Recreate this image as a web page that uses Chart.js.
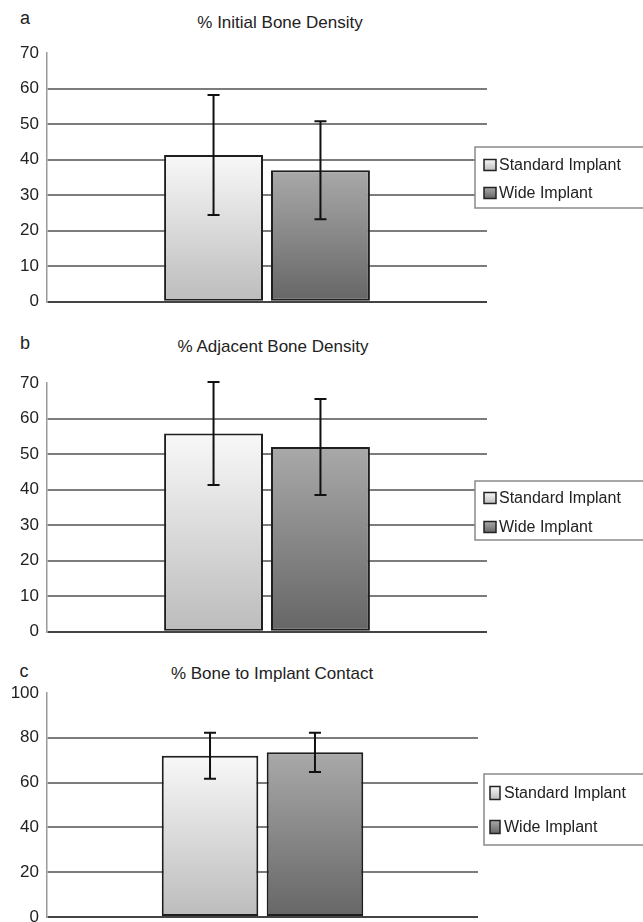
<!DOCTYPE html>
<html>
<head>
<meta charset="utf-8">
<script src="https://cdn.jsdelivr.net/npm/chart.js@4.4.0/dist/chart.umd.min.js"></script>
<style>
  html, body { margin: 0; padding: 0; background: #fff; width: 643px; height: 922px; overflow: hidden; }
  canvas { position: absolute; left: 0; }
  .txt { position: absolute; font-family: "Liberation Sans", Arial, sans-serif; color: #222;
         transform: translate(-50%, -50%); white-space: nowrap; }
  .letter { font-size: 18px; }
  .title { font-size: 17px; }
</style>
</head>
<body>
<div class="txt letter" style="left:25px;top:18px">a</div>
<div class="txt title" id="t0" style="left:280px;top:23px"></div>
<div class="txt letter" style="left:25px;top:343px">b</div>
<div class="txt title" id="t1" style="left:273px;top:347px"></div>
<div class="txt letter" style="left:24px;top:671px">c</div>
<div class="txt title" id="t2" style="left:272px;top:674px"></div>

<canvas id="c0" width="643" height="320" style="top:0px"></canvas>
<canvas id="c1" width="643" height="340" style="top:310px"></canvas>
<canvas id="c2" width="643" height="310" style="top:630px"></canvas>

<script>
// ---- data ----
const categories = [''];
const seriesNames = ['Standard Implant', 'Wide Implant'];
const panelTitles = ['% Initial Bone Density', '% Adjacent Bone Density', '% Bone to Implant Contact'];

const initialMeans = [41.3, 37.0];
const initialSD = [16.9, 13.8];
const adjacentMeans = [55.8, 52.0];
const adjacentSD = [14.5, 13.5];
const contactMeans = [72.0, 73.5];
const contactSD = [10.3, 8.8];

const densityTicks = [0, 10, 20, 30, 40, 50, 60, 70];
const contactTicks = [0, 20, 40, 60, 80, 100];

// ---- layout / style per panel ----
const panels = [
  { means: initialMeans, sd: initialSD, ticks: densityTicks,
    pad: { top: 53, bottom: 18, left: 0, right: 156 }, cat: 0.486, bar: 0.925,
    legend: { x: 475, y: 147, h: 61, rows: [165, 193], sqX: 484, sqW: 12, sqH: 11, textX: 499 } },
  { means: adjacentMeans, sd: adjacentSD, ticks: densityTicks,
    pad: { top: 73, bottom: 15, left: 0, right: 156 }, cat: 0.486, bar: 0.925,
    legend: { x: 475, y: 171, h: 59, rows: [188, 217], sqX: 484, sqW: 12, sqH: 11, textX: 499 } },
  { means: contactMeans, sd: contactSD, ticks: contactTicks,
    pad: { top: 63, bottom: 23, left: 0, right: 165 }, cat: 0.487, bar: 0.92,
    legend: { x: 484, y: 144, h: 71, rows: [163, 197], sqX: 490, sqW: 10, sqH: 13, textX: 504 } }
];

const shades = [['#f8f8f8', '#bcbcbc'], ['#a9a9a9', '#666666']];
const FONT = '"Liberation Sans", Arial, sans-serif';

function barFill(i) {
  return (ctx) => {
    const chart = ctx.chart;
    const area = chart.chartArea;
    if (!area || !chart.scales.y) return shades[i][1];
    const top = chart.scales.y.getPixelForValue(ctx.raw);
    const g = chart.ctx.createLinearGradient(0, top, 0, area.bottom);
    g.addColorStop(0, shades[i][0]);
    g.addColorStop(1, shades[i][1]);
    return g;
  };
}

const errorBars = {
  id: 'errorBars',
  afterDatasetsDraw(chart) {
    const ctx = chart.ctx, y = chart.scales.y;
    chart.data.datasets.forEach((ds, i) => {
      chart.getDatasetMeta(i).data.forEach((bar, j) => {
        const hi = y.getPixelForValue(ds.data[j] + ds.sd[j]);
        const lo = y.getPixelForValue(ds.data[j] - ds.sd[j]);
        ctx.save();
        ctx.strokeStyle = '#111';
        ctx.lineWidth = 2;
        ctx.beginPath();
        ctx.moveTo(bar.x, hi); ctx.lineTo(bar.x, lo);
        ctx.moveTo(bar.x - 6, hi); ctx.lineTo(bar.x + 6, hi);
        ctx.moveTo(bar.x - 6, lo); ctx.lineTo(bar.x + 6, lo);
        ctx.stroke();
        ctx.restore();
      });
    });
  }
};

const boxLegend = {
  id: 'boxLegend',
  afterDraw(chart, args, o) {
    const ctx = chart.ctx;
    ctx.save();
    ctx.fillStyle = '#fff';
    ctx.fillRect(o.x, o.y, 700 - o.x, o.h);
    ctx.strokeStyle = '#8a8a8a';
    ctx.lineWidth = 1.5;
    ctx.strokeRect(o.x, o.y, 700 - o.x, o.h);
    chart.data.datasets.forEach((ds, i) => {
      const cy = o.rows[i];
      const top = cy - o.sqH / 2;
      const g = ctx.createLinearGradient(0, top, 0, top + o.sqH);
      g.addColorStop(0, shades[i][0]);
      g.addColorStop(1, shades[i][1]);
      ctx.fillStyle = g;
      ctx.fillRect(o.sqX, top, o.sqW, o.sqH);
      ctx.strokeStyle = '#222';
      ctx.lineWidth = 1.5;
      ctx.strokeRect(o.sqX, top, o.sqW, o.sqH);
      ctx.fillStyle = '#222';
      ctx.font = '16px ' + FONT;
      ctx.textBaseline = 'middle';
      ctx.fillText(ds.label, o.textX, cy + 1);
    });
    ctx.restore();
  }
};

panels.forEach((p, k) => {
  document.getElementById('t' + k).textContent = panelTitles[k];
  const tmax = p.ticks[p.ticks.length - 1];
  new Chart(document.getElementById('c' + k), {
    type: 'bar',
    data: {
      labels: categories,
      datasets: seriesNames.map((name, i) => ({
        label: name,
        data: [p.means[i]],
        sd: [p.sd[i]],
        backgroundColor: barFill(i),
        borderColor: '#1e1e1e',
        borderWidth: 2,
        borderSkipped: false,
        categoryPercentage: p.cat,
        barPercentage: p.bar
      }))
    },
    options: {
      responsive: false,
      animation: false,
      layout: { padding: p.pad },
      plugins: {
        legend: { display: false },
        tooltip: { enabled: false },
        boxLegend: p.legend
      },
      scales: {
        x: { display: false },
        y: {
          min: 0, max: tmax,
          afterBuildTicks: s => { s.ticks = p.ticks.map(v => ({ value: v })); },
          afterFit: s => { s.width = 47; },
          border: { display: true, color: '#9a9a9a', width: 1.5 },
          grid: {
            drawTicks: false,
            lineWidth: 2,
            color: c => c.tick.value === tmax ? 'rgba(0,0,0,0)' : (c.tick.value === 0 ? '#444' : '#7c7c7c')
          },
          ticks: { padding: 8, color: '#222', font: { family: FONT, size: 17 } }
        }
      }
    },
    plugins: [errorBars, boxLegend]
  });
});
</script>
</body>
</html>
